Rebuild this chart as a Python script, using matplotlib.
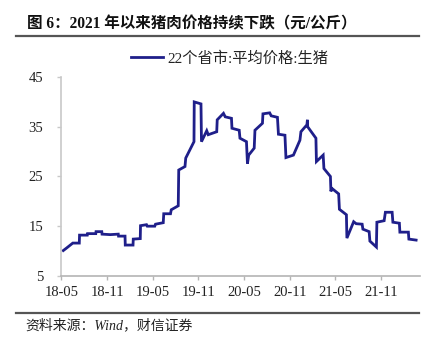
import matplotlib
matplotlib.use("Agg")
import matplotlib.pyplot as plt
from matplotlib.lines import Line2D
import pandas as pd

# 22个省市生猪平均价格（元/公斤）
dates = [
    "2018-05-09", "2018-05-22", "2018-06-16", "2018-07-12", "2018-07-13",
    "2018-08-13", "2018-08-14", "2018-09-16", "2018-09-17", "2018-10-10",
    "2018-10-11", "2018-11-13", "2018-12-15", "2018-12-16", "2019-01-11",
    "2019-01-12", "2019-02-12", "2019-02-13", "2019-03-13", "2019-03-14",
    "2019-04-07", "2019-04-10", "2019-05-10", "2019-05-13", "2019-06-13",
    "2019-06-15", "2019-07-12", "2019-07-15", "2019-08-12", "2019-08-14",
    "2019-09-08", "2019-09-11", "2019-10-14", "2019-10-15", "2019-11-11",
    "2019-11-13", "2019-12-04", "2019-12-10", "2020-01-13", "2020-01-15",
    "2020-02-09", "2020-02-16", "2020-03-12", "2020-03-14", "2020-04-12",
    "2020-04-15", "2020-05-11", "2020-05-15", "2020-05-20", "2020-06-11",
    "2020-06-14", "2020-07-14", "2020-07-16", "2020-08-12", "2020-08-18",
    "2020-09-12", "2020-09-16", "2020-10-12", "2020-10-16", "2020-11-15",
    "2020-12-11", "2020-12-15", "2021-01-08", "2021-01-10", "2021-01-11",
    "2021-02-13", "2021-02-15", "2021-03-14", "2021-03-17", "2021-04-12",
    "2021-04-14", "2021-04-18", "2021-05-15", "2021-05-18", "2021-06-15",
    "2021-06-17", "2021-07-14", "2021-07-24", "2021-08-17", "2021-08-20",
    "2021-09-14", "2021-09-17", "2021-10-13", "2021-10-15", "2021-11-13",
    "2021-11-18", "2021-12-15", "2021-12-18", "2022-01-13", "2022-01-15",
    "2022-02-18", "2022-02-20", "2022-03-21",
]
prices = [
    10.1, 10.6, 11.6, 11.6, 13.2,
    13.2, 13.5, 13.5, 13.9, 13.9,
    13.4, 13.3, 13.4, 13.0, 13.0,
    11.2, 11.2, 12.4, 12.5, 15.1,
    15.3, 15.0, 15.0, 15.4, 15.7,
    17.5, 17.5, 18.3, 19.1, 26.3,
    27.0, 28.7, 32.0, 40.0, 39.6,
    32.0, 34.2, 33.4, 34.0, 36.4,
    37.7, 37.0, 36.7, 34.7, 34.3,
    32.7, 32.0, 27.6, 29.3, 30.7,
    34.3, 35.7, 37.6, 37.8, 37.2,
    36.9, 33.5, 33.3, 28.8, 29.3,
    32.3, 34.0, 35.4, 36.4, 35.0,
    32.7, 28.0, 29.3, 26.6, 25.0,
    22.0, 22.6, 21.5, 18.4, 17.3,
    12.6, 15.9, 15.5, 15.4, 14.4,
    13.9, 12.0, 10.8, 15.8, 16.1,
    17.8, 17.8, 15.8, 15.6, 13.8,
    13.8, 12.4, 12.2,
]
tick_dates = ["2018-05-01", "2018-11-01", "2019-05-01", "2019-11-01",
              "2020-05-01", "2020-11-01", "2021-05-01", "2021-11-01"]
tick_labels = ["18-05", "18-11", "19-05", "19-11",
               "20-05", "20-11", "21-05", "21-11"]
y_ticks = [5, 15, 25, 35, 45]

title = "图 6：2021 年以来猪肉价格持续下跌（元/公斤）"
series_name = "22个省市:平均价格:生猪"
source = "资料来源：Wind，财信证券"

SERIF = ["Liberation Serif", "Noto Sans CJK SC"]
LINE_COLOR = "#1f1f8a"

fig = plt.figure(figsize=(4.36, 3.44), dpi=100)
ax = fig.add_axes([0.1406, 0.198, 0.963 - 0.1406, 0.776 - 0.198])

x = pd.to_datetime(dates)
ax.plot(x, prices, color=LINE_COLOR, lw=2.0, solid_joinstyle="miter")

ax.set_xlim(pd.Timestamp("2018-05-01"), pd.Timestamp("2022-04-05"))
ax.set_ylim(5, 45)
ax.set_yticks(y_ticks)
ax.set_yticklabels([str(v) for v in y_ticks], family=SERIF, fontsize=10.5)
ax.set_xticks(pd.to_datetime(tick_dates))
ax.set_xticklabels(tick_labels, family=SERIF, fontsize=10.5)

for s in ("top", "right"):
    ax.spines[s].set_visible(False)
ax.spines["left"].set_color("#c8c8c8")
ax.spines["bottom"].set_color("#b4b4b4")
ax.spines["left"].set_linewidth(1.2)
ax.spines["bottom"].set_linewidth(1.2)
ax.tick_params(axis="y", direction="out", length=3, width=1, color="#c8c8c8",
               pad=10, labelcolor="#222222")
ax.tick_params(axis="x", direction="out", length=3, width=1, color="#b4b4b4",
               pad=4, labelcolor="#222222")

leg = ax.legend([Line2D([0], [0], color=LINE_COLOR, lw=2.0)], [series_name],
                loc="center", bbox_to_anchor=(0.526, 0.831),
                bbox_transform=fig.transFigure, frameon=False,
                handlelength=2.1, handletextpad=0.3,
                prop={"family": SERIF, "size": 11})
for t in leg.get_texts():
    t.set_color("#222222")

# 标题、分隔线与资料来源
fig.text(27 / 436, 1 - 24 / 344, title, family=SERIF, fontsize=11.2,
         fontweight="bold", va="center", ha="left", color="#111111")
fig.add_artist(Line2D([16 / 436, 419 / 436], [1 - 35.5 / 344] * 2,
                      transform=fig.transFigure, color="#555555", lw=1.6))
fig.add_artist(Line2D([16 / 436, 419 / 436], [1 - 312.5 / 344] * 2,
                      transform=fig.transFigure, color="#555555", lw=1.6))
fig.text(25 / 436, 1 - 325.5 / 344, source, family=SERIF, fontsize=10,
         style="italic", va="center", ha="left", color="#222222")

fig.savefig("out.png", dpi=100)
